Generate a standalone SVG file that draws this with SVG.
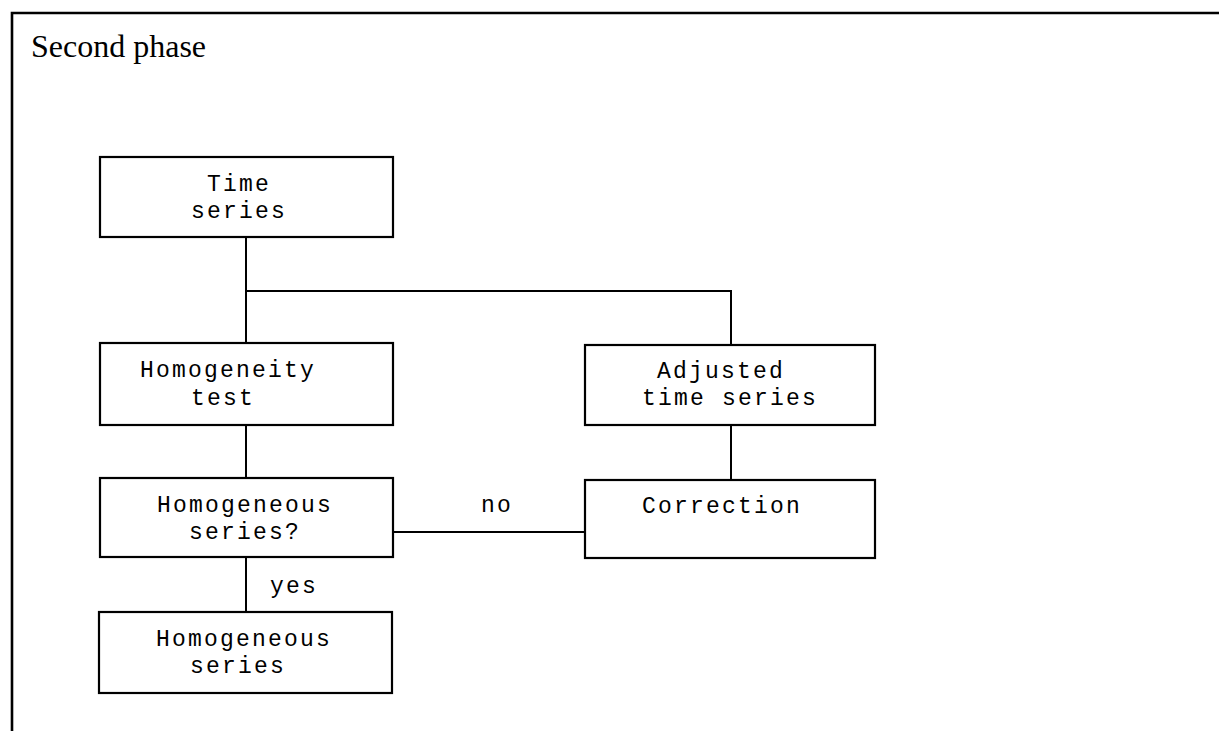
<svg xmlns="http://www.w3.org/2000/svg" width="1219" height="731" viewBox="0 0 1219 731">
<style>
.box{fill:#fff;stroke:#000;stroke-width:2.2}
.lbl{font-family:"Liberation Mono","Courier New",monospace;font-size:23px;letter-spacing:2.2px;fill:#000}
.title{font-family:"Liberation Serif","Times New Roman",serif;font-size:32px;fill:#000}
.con{fill:none;stroke:#000;stroke-width:2}
.frame{fill:none;stroke:#000;stroke-width:2.6}
</style>
<rect width="1219" height="731" fill="#fff"/>
<path class="frame" d="M12,731 V13 H1219"/>
<text class="title" x="31" y="57">Second phase</text>
<g id="connectors">
<path class="con" d="M246,237 V343"/>
<path class="con" d="M246,291 H731 V345"/>
<path class="con" d="M246,425 V478"/>
<path class="con" d="M731,425 V480"/>
<path class="con" d="M393,532 H585"/>
<path class="con" d="M246,557 V612"/>
<text class="lbl" x="481" y="512">no</text>
<text class="lbl" x="270" y="593">yes</text>
</g>
<g id="time-series">
<rect class="box" x="100" y="157" width="293" height="80"/>
<text class="lbl" x="207" y="191">Time</text>
<text class="lbl" x="191" y="218">series</text>
</g>
<g id="homogeneity-test">
<rect class="box" x="100" y="343" width="293" height="82"/>
<text class="lbl" x="140" y="377">Homogeneity</text>
<text class="lbl" x="191" y="405">test</text>
</g>
<g id="homogeneous-question">
<rect class="box" x="100" y="478" width="293" height="79"/>
<text class="lbl" x="157" y="512">Homogeneous</text>
<text class="lbl" x="189" y="539">series?</text>
</g>
<g id="homogeneous-series">
<rect class="box" x="99" y="612" width="293" height="81"/>
<text class="lbl" x="156" y="646">Homogeneous</text>
<text class="lbl" x="190" y="673">series</text>
</g>
<g id="adjusted-time-series">
<rect class="box" x="585" y="345" width="290" height="80"/>
<text class="lbl" x="657" y="378">Adjusted</text>
<text class="lbl" x="642" y="405">time series</text>
</g>
<g id="correction">
<rect class="box" x="585" y="480" width="290" height="78"/>
<text class="lbl" x="642" y="513">Correction</text>
</g>
</svg>
